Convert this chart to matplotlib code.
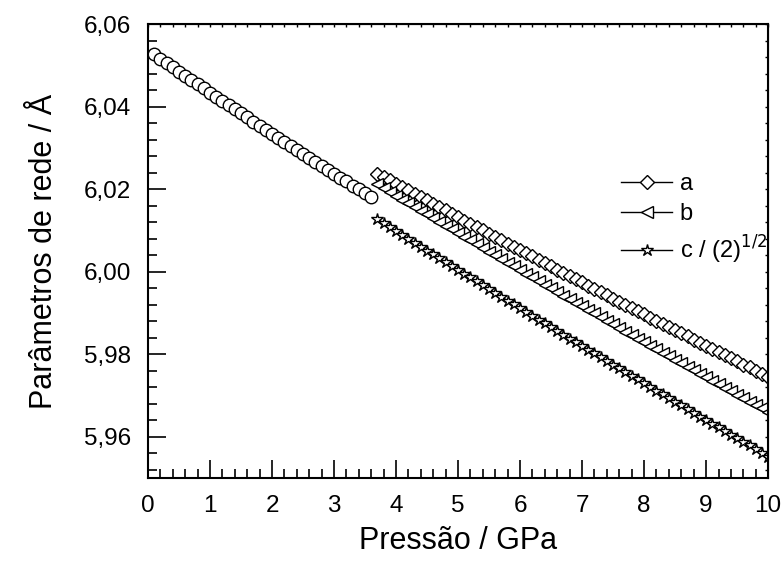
#!/usr/bin/env python3
# -*- coding: utf-8 -*-
"""Parâmetros de rede em função da pressão"""

import matplotlib
matplotlib.use('Agg')
import matplotlib.pyplot as plt
from matplotlib.ticker import MultipleLocator, FuncFormatter

matplotlib.rcParams['font.family'] = ['Liberation Sans', 'DejaVu Sans']

# fase cúbica (círculos)
p_low = [0.0, 0.1, 0.2, 0.3, 0.4, 0.5, 0.6, 0.7, 0.8, 0.9,
         1.0, 1.1, 1.2, 1.3, 1.4, 1.5, 1.6, 1.7, 1.8, 1.9,
         2.0, 2.1, 2.2, 2.3, 2.4, 2.5, 2.6, 2.7, 2.8, 2.9,
         3.0, 3.1, 3.2, 3.3, 3.4, 3.5, 3.6]
a_cub = [6.0537, 6.0527, 6.0516, 6.0506, 6.0496, 6.0485, 6.0475, 6.0465, 6.0455, 6.0445,
         6.0434, 6.0424, 6.0414, 6.0404, 6.0394, 6.0384, 6.0374, 6.0364, 6.0354, 6.0344,
         6.0335, 6.0325, 6.0315, 6.0305, 6.0295, 6.0286, 6.0276, 6.0266, 6.0257, 6.0247,
         6.0238, 6.0228, 6.0219, 6.0209, 6.0200, 6.0190, 6.0181]

# fase de alta pressão
p_high = [3.7, 3.8, 3.9, 4.0, 4.1, 4.2, 4.3, 4.4, 4.5, 4.6,
          4.7, 4.8, 4.9, 5.0, 5.1, 5.2, 5.3, 5.4, 5.5, 5.6,
          5.7, 5.8, 5.9, 6.0, 6.1, 6.2, 6.3, 6.4, 6.5, 6.6,
          6.7, 6.8, 6.9, 7.0, 7.1, 7.2, 7.3, 7.4, 7.5, 7.6,
          7.7, 7.8, 7.9, 8.0, 8.1, 8.2, 8.3, 8.4, 8.5, 8.6,
          8.7, 8.8, 8.9, 9.0, 9.1, 9.2, 9.3, 9.4, 9.5, 9.6,
          9.7, 9.8, 9.9, 10.0]
a_hp = [6.0238, 6.0230, 6.0222, 6.0213, 6.0205, 6.0197, 6.0189, 6.0181, 6.0173, 6.0165,
        6.0157, 6.0149, 6.0140, 6.0132, 6.0124, 6.0116, 6.0108, 6.0100, 6.0092, 6.0084,
        6.0076, 6.0068, 6.0061, 6.0053, 6.0045, 6.0037, 6.0029, 6.0021, 6.0013, 6.0005,
        5.9997, 5.9990, 5.9982, 5.9974, 5.9966, 5.9958, 5.9951, 5.9943, 5.9935, 5.9927,
        5.9920, 5.9912, 5.9904, 5.9897, 5.9889, 5.9881, 5.9874, 5.9866, 5.9858, 5.9851,
        5.9843, 5.9835, 5.9828, 5.9820, 5.9813, 5.9805, 5.9798, 5.9790, 5.9783, 5.9775,
        5.9768, 5.9760, 5.9753, 5.9745]
b_hp = [6.0212, 6.0203, 6.0194, 6.0184, 6.0175, 6.0166, 6.0157, 6.0148, 6.0139, 6.0130,
        6.0121, 6.0112, 6.0103, 6.0094, 6.0085, 6.0076, 6.0067, 6.0058, 6.0049, 6.0040,
        6.0031, 6.0022, 6.0013, 6.0004, 5.9995, 5.9986, 5.9978, 5.9969, 5.9960, 5.9951,
        5.9942, 5.9934, 5.9925, 5.9916, 5.9907, 5.9899, 5.9890, 5.9881, 5.9873, 5.9864,
        5.9855, 5.9847, 5.9838, 5.9829, 5.9821, 5.9812, 5.9804, 5.9795, 5.9787, 5.9778,
        5.9770, 5.9761, 5.9753, 5.9744, 5.9736, 5.9727, 5.9719, 5.9710, 5.9702, 5.9694,
        5.9685, 5.9677, 5.9669, 5.9660]
c_hp = [6.0127, 6.0118, 6.0108, 6.0099, 6.0089, 6.0080, 6.0070, 6.0061, 6.0051, 6.0042,
        6.0033, 6.0023, 6.0014, 6.0005, 5.9995, 5.9986, 5.9977, 5.9967, 5.9958, 5.9949,
        5.9939, 5.9930, 5.9921, 5.9912, 5.9902, 5.9893, 5.9884, 5.9875, 5.9866, 5.9857,
        5.9847, 5.9838, 5.9829, 5.9820, 5.9811, 5.9802, 5.9793, 5.9784, 5.9775, 5.9766,
        5.9757, 5.9748, 5.9739, 5.9730, 5.9721, 5.9712, 5.9703, 5.9694, 5.9685, 5.9676,
        5.9667, 5.9658, 5.9649, 5.9640, 5.9631, 5.9623, 5.9614, 5.9605, 5.9596, 5.9587,
        5.9579, 5.9570, 5.9561, 5.9552]


def comma_fmt(v, pos):
    return f'{v:.2f}'.replace('.', ',')


fig = plt.figure(figsize=(7.83, 5.63), dpi=100)
ax = fig.add_axes([0.189, 0.151, 0.792, 0.806])

mk = dict(color='black', markerfacecolor='white', markeredgecolor='black',
          markeredgewidth=1.0, linewidth=1.0)
ax.plot(p_low, a_cub, marker='o', markersize=9, markevery=slice(1, None), **mk)
ax.plot(p_high, a_hp, marker='D', markersize=7.5, label='a', **mk)
ax.plot(p_high, b_hp, marker='<', markersize=9, label='b', **mk)
ax.plot(p_high, c_hp, marker='*', markersize=9, label='c / (2)$^{1/2}$', **mk)

ax.set_xlim(0, 10)
ax.set_ylim(5.95, 6.06)
ax.xaxis.set_major_locator(MultipleLocator(1))
ax.xaxis.set_minor_locator(MultipleLocator(0.2))
ax.yaxis.set_major_locator(MultipleLocator(0.02))
ax.yaxis.set_minor_locator(MultipleLocator(0.004))
ax.yaxis.set_major_formatter(FuncFormatter(comma_fmt))

ax.tick_params(which='major', direction='in', length=13, width=1.2,
               labelsize=17.5, pad=12)
ax.tick_params(which='minor', direction='in', length=6.5, width=1.2)
for s in ax.spines.values():
    s.set_linewidth(1.5)

# ticks curtos em cima e à direita
top = ax.secondary_xaxis('top')
top.xaxis.set_major_locator(MultipleLocator(1))
top.xaxis.set_minor_locator(MultipleLocator(0.2))
top.tick_params(which='both', direction='in', length=2.5, width=1.0, labeltop=False)
right = ax.secondary_yaxis('right')
right.yaxis.set_major_locator(MultipleLocator(0.02))
right.yaxis.set_minor_locator(MultipleLocator(0.004))
right.tick_params(which='both', direction='in', length=2.5, width=1.0, labelright=False)

ax.set_xlabel('Pressão / GPa', fontsize=22, labelpad=7)
ax.set_ylabel('Parâmetros de rede / Å', fontsize=22, labelpad=18)

ax.legend(loc='upper left', bbox_to_anchor=(0.762, 0.672), frameon=False,
          fontsize=17, handlelength=2.2, handletextpad=0.3, labelspacing=0.35,
          borderpad=0, borderaxespad=0)

fig.savefig('out.png', dpi=100)
